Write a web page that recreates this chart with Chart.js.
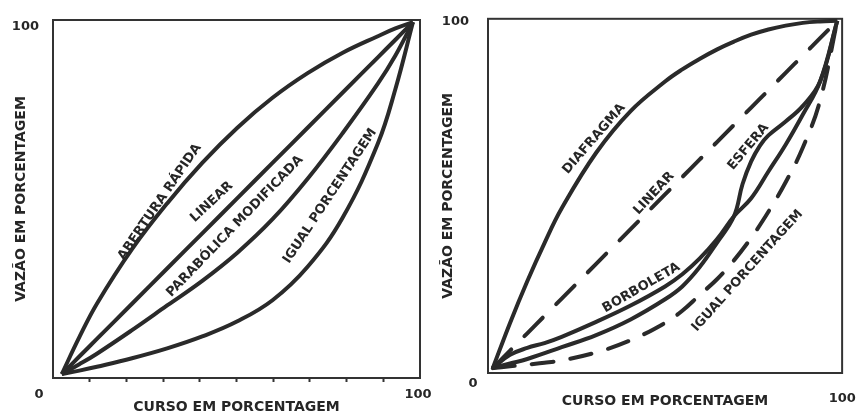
<!DOCTYPE html>
<html>
<head>
<meta charset="utf-8">
<script src="https://cdn.jsdelivr.net/npm/chart.js@4.4.0/dist/chart.umd.min.js"></script>
<style>
    body { margin: 0; background: #fff; }
    #wrap { position: relative; width: 865px; height: 416px; }
    .painel { position: absolute; top: 0; height: 416px; }
    #painelA { left: 0; width: 432px; }
    #painelB { left: 432px; width: 433px; }
</style>
</head>
<body>
<div id="wrap">
    <div class="painel" id="painelA"><canvas id="graficoA"></canvas></div>
    <div class="painel" id="painelB"><canvas id="graficoB"></canvas></div>
</div>
<script>
// Curso (%) x Vazão (%) - características de válvulas
var cursoA = [0, 5, 10, 20, 30, 40, 50, 60, 70, 80, 90, 95, 100];
var aberturaRapida = [0, 10.5, 20, 35.5, 48.5, 60, 70, 78.5, 85.5, 91.3, 96, 98.2, 100];
var linearA = [0, 5, 10, 20, 30, 40, 50, 60, 70, 80, 90, 95, 100];
var parabolicaModificada = [0, 2.8, 5.8, 12.5, 19.5, 26.5, 34.5, 44, 55.5, 68.5, 82.5, 90.5, 100];
var igualPorcentagemA = [0, 1, 2.1, 4.5, 7.3, 10.7, 15, 21, 30.5, 44.5, 65.5, 81, 100];

var cursoB = [0, 5, 10, 15, 20, 30, 40, 50, 55, 60, 65, 70, 75, 80, 85, 90, 95, 100];
var diafragma = [0, 13, 25, 36, 46, 62, 74, 82.5, 86, 89, 91.7, 94, 96, 97.5, 98.6, 99.4, 99.8, 100];
var linearB = [0, 5, 10, 15, 20, 30, 40, 50, 55, 60, 65, 70, 75, 80, 85, 90, 95, 100];
var borboleta = [0, 3.8, 5.8, 7.2, 9, 13.3, 18, 23.5, 27, 31.5, 37, 43.7, 48.9, 56.6, 64.3, 73, 82.5, 100];
var igualPorcentagemB = [0, 0.5, 1, 1.5, 2.2, 4.5, 8, 13, 16.5, 21, 25.5, 31, 37.5, 45, 53.5, 63.5, 77, 100];
var cursoEsfera = [0, 5, 10, 20, 30, 40, 50, 55, 60, 65, 70, 72.5, 75, 77.5, 80, 85, 90, 95, 100];
var esfera = [0, 1.3, 2.6, 6, 9.5, 14, 19.8, 23.5, 29, 36, 43.7, 53, 59.5, 64, 67, 71, 75.5, 82.5, 100];

var FONTE = 'DejaVu Sans';
var TINTA = '#262626';

function serie(xs, ys, dash) {
    return {
        data: xs.map(function(x, i) { return { x: x, y: ys[i] }; }),
        borderColor: '#2a2a2a',
        borderWidth: 4,
        borderDash: dash || [],
        borderCapStyle: dash ? 'round' : 'butt',
        pointRadius: 0,
        tension: 0.4,
        fill: false
    };
}

// moldura, "0" e rótulos das curvas
var molduraPlugin = {
    id: 'moldura',
    beforeDatasetsDraw: function(chart) {
        var a = chart.chartArea, ctx = chart.ctx;
        ctx.save();
        ctx.strokeStyle = '#333';
        ctx.lineWidth = 2;
        ctx.strokeRect(a.left, a.top, a.right - a.left, a.bottom - a.top);
        ctx.restore();
    },
    afterDatasetsDraw: function(chart, args, opts) {
        var ctx = chart.ctx, a = chart.chartArea;
        var sx = chart.scales.x, sy = chart.scales.y;
        ctx.save();
        ctx.fillStyle = TINTA;
        ctx.textAlign = 'center';
        ctx.textBaseline = 'middle';
        ctx.font = 'bold 13px "' + FONTE + '"';
        ctx.fillText('0', a.left + opts.zero[0], a.bottom + opts.zero[1]);
        opts.rotulos.forEach(function(r) {
            ctx.save();
            ctx.translate(sx.getPixelForValue(r.x), sy.getPixelForValue(r.y));
            ctx.rotate(r.ang * Math.PI / 180);
            ctx.fillText(r.texto, 0, 0);
            ctx.restore();
        });
        ctx.restore();
    }
};

function criarGrafico(id, cfg) {
    var fonteTick = { family: FONTE, size: 13, weight: 'bold' };
    var fonteTitulo = { family: FONTE, size: 14, weight: 'bold' };
    return new Chart(document.getElementById(id), {
        type: 'line',
        data: { datasets: cfg.datasets },
        options: {
            responsive: true,
            maintainAspectRatio: false,
            animation: false,
            layout: { padding: cfg.padding },
            scales: {
                x: {
                    type: 'linear',
                    min: cfg.xMin, max: cfg.xMax,
                    afterFit: function(s) { s.height = cfg.alturaX; },
                    afterBuildTicks: function(s) {
                        var t = [];
                        if (cfg.marcas) {
                            for (var k = 1; k < 10; k++) t.push({ value: s.min + k * (s.max - s.min) / 10 });
                        }
                        t.push({ value: 100 });
                        s.ticks = t;
                    },
                    ticks: {
                        font: fonteTick, color: TINTA, padding: cfg.padX, labelOffset: 5,
                        maxRotation: 0, autoSkip: false,
                        callback: function(v) { return v === 100 ? '100' : ''; }
                    },
                    grid: {
                        display: cfg.marcas, drawOnChartArea: false, tickLength: 4, tickWidth: 2,
                        tickColor: function(c) { return c.tick && c.tick.value === 100 ? 'rgba(0,0,0,0)' : '#333'; }
                    },
                    border: { display: false },
                    title: { display: true, text: 'CURSO EM PORCENTAGEM', font: fonteTitulo, color: TINTA, padding: { top: 0, bottom: cfg.titPadX } }
                },
                y: {
                    type: 'linear',
                    min: cfg.yMin, max: cfg.yMax,
                    afterFit: function(s) { s.width = cfg.larguraY; },
                    afterBuildTicks: function(s) { s.ticks = [{ value: 100 }]; },
                    ticks: { font: fonteTick, color: TINTA, padding: cfg.padY, labelOffset: cfg.offY },
                    grid: { display: false },
                    border: { display: false },
                    title: { display: true, text: 'VAZÃO EM PORCENTAGEM', font: fonteTitulo, color: TINTA, padding: { top: cfg.titPadY, bottom: 0 } }
                }
            },
            plugins: {
                legend: { display: false },
                tooltip: { enabled: false },
                moldura: { zero: cfg.zero, rotulos: cfg.rotulos }
            }
        },
        plugins: [molduraPlugin]
    });
}

criarGrafico('graficoA', {
    datasets: [
        serie(cursoA, aberturaRapida),
        serie(cursoA, linearA),
        serie(cursoA, parabolicaModificada),
        serie(cursoA, igualPorcentagemA)
    ],
    padding: { left: 0, top: 20, right: 12, bottom: 0 },
    larguraY: 53, alturaX: 38,
    xMin: -2.5, xMax: 102, yMin: -1.1, yMax: 100.6,
    marcas: true, padX: 5, titPadX: 0, padY: 6, offY: 5, titPadY: 13,
    zero: [-14, 17],
    rotulos: [
        { texto: 'ABERTURA RÁPIDA', x: 27.9, y: 48.9, ang: -55.7 },
        { texto: 'LINEAR', x: 42.7, y: 48.9, ang: -43 },
        { texto: 'PARABÓLICA MODIFICADA', x: 49.3, y: 42, ang: -46 },
        { texto: 'IGUAL PORCENTAGEM', x: 76.4, y: 50.6, ang: -56.5 }
    ]
});

criarGrafico('graficoB', {
    datasets: [
        serie(cursoB, diafragma),
        serie(cursoB, linearB, [26, 19]),
        serie(cursoB, borboleta),
        serie(cursoEsfera, esfera),
        serie(cursoB, igualPorcentagemB, [22, 17])
    ],
    padding: { left: 0, top: 16, right: 10, bottom: 0 },
    larguraY: 56, alturaX: 43,
    xMin: -1.4, xMax: 101.4, yMin: -1.43, yMax: 100.57,
    marcas: false, padX: 14, titPadX: 6, padY: 11, offY: 1, titPadY: 8,
    zero: [-15, 11],
    rotulos: [
        { texto: 'DIAFRAGMA', x: 29.4, y: 66, ang: -49 },
        { texto: 'LINEAR', x: 46.8, y: 50.3, ang: -47 },
        { texto: 'ESFERA', x: 74.2, y: 63.7, ang: -50 },
        { texto: 'BORBOLETA', x: 43.1, y: 23.1, ang: -30 },
        { texto: 'IGUAL PORCENTAGEM', x: 73.9, y: 28, ang: -48 }
    ]
});
</script>
</body>
</html>
